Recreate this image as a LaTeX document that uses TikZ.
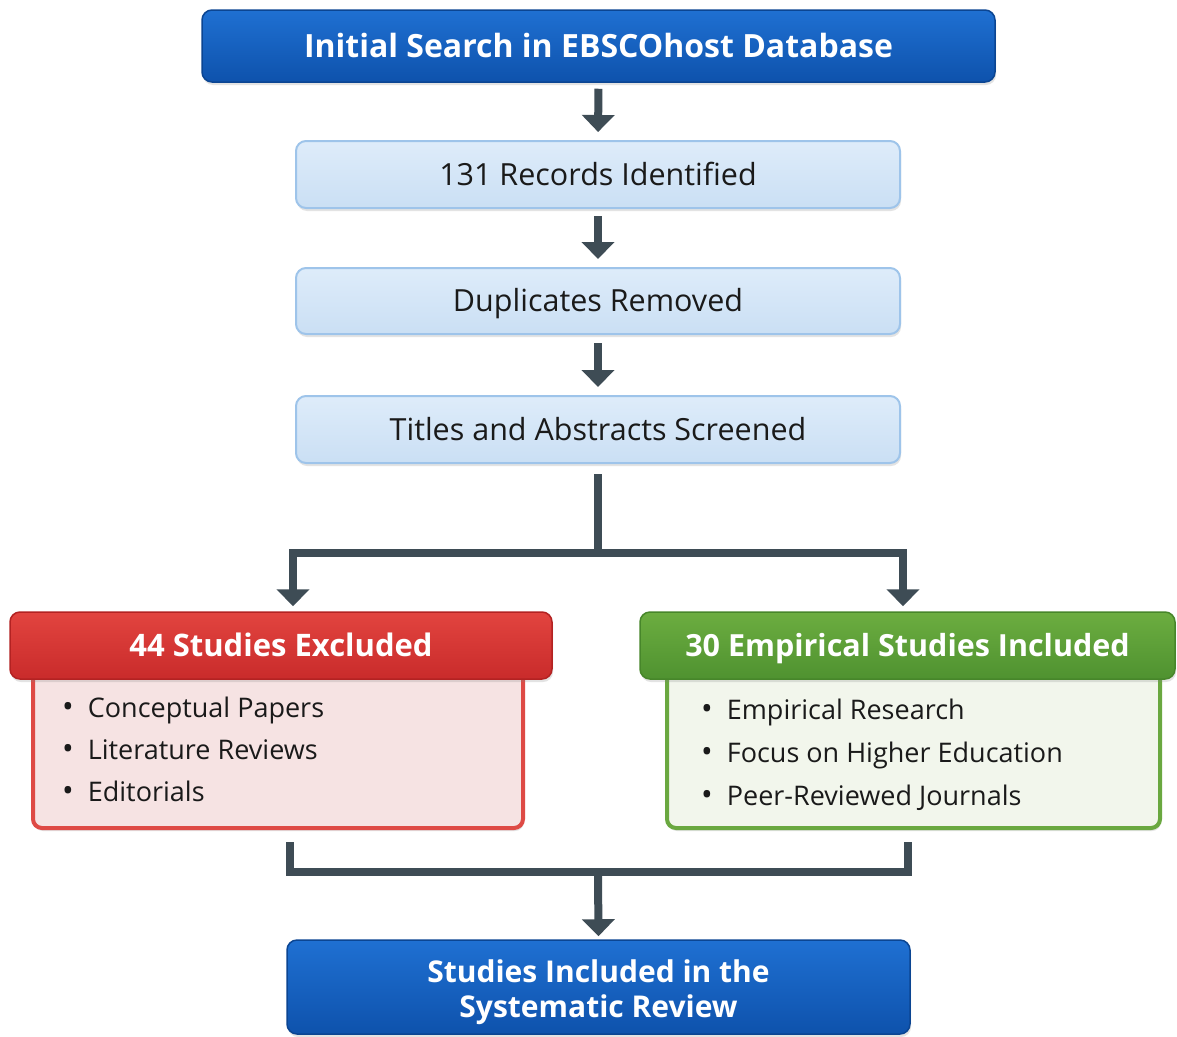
\documentclass[tikz,border=0pt]{standalone}
\usepackage{fontspec}
\setmainfont{Open Sans}
\usetikzlibrary{arrows.meta,shadows}
\definecolor{dkT}{HTML}{1F70D2}
\definecolor{dkB}{HTML}{0E52AC}
\definecolor{dkD}{HTML}{0B4592}
\definecolor{ltT}{HTML}{DEECFA}
\definecolor{ltB}{HTML}{CADFF4}
\definecolor{ltD}{HTML}{9EC4EA}
\definecolor{rdT}{HTML}{E2443F}
\definecolor{rdB}{HTML}{C92B2B}
\definecolor{rdD}{HTML}{B32222}
\definecolor{rdF}{HTML}{F6E3E3}
\definecolor{rdE}{HTML}{DE4A45}
\definecolor{gnT}{HTML}{6CAD40}
\definecolor{gnB}{HTML}{4F9230}
\definecolor{gnD}{HTML}{47862A}
\definecolor{gnF}{HTML}{F2F6EC}
\definecolor{gnE}{HTML}{6AA840}
\definecolor{arr}{HTML}{3E4C55}
\definecolor{txt}{HTML}{1A1A1A}
\begin{document}
\begin{tikzpicture}[x=1pt,y=-1pt,
  shad/.style={drop shadow={opacity=0.22,shadow xshift=1pt,shadow yshift=-3pt}},
  onel/.style={text height=#1,text depth=0pt},
  darkbox/.style={rounded corners=10pt,draw=dkD,line width=1.5pt,top color=dkT,bottom color=dkB,
    text=white,font=\fontsize{32}{35}\selectfont\bfseries,shad,align=center},
  lightbox/.style={rounded corners=10pt,draw=ltD,line width=2pt,top color=ltT,bottom color=ltB,
    text=txt,font=\fontsize{30.5}{33}\selectfont,shad,onel=21.8pt},
  redhead/.style={rounded corners=10pt,draw=rdD,line width=1.5pt,top color=rdT,bottom color=rdB,
    text=white,font=\fontsize{31}{34}\selectfont\bfseries,shad,onel=22.1pt},
  redbody/.style={rounded corners=9pt,draw=rdE,line width=4pt,fill=rdF,shad},
  grnhead/.style={rounded corners=10pt,draw=gnD,line width=1.5pt,top color=gnT,bottom color=gnB,
    text=white,font=\fontsize{30.5}{34}\selectfont\bfseries,shad,onel=21.8pt},
  grnbody/.style={rounded corners=9pt,draw=gnE,line width=4pt,fill=gnF,shad},
  item/.style={anchor=base west,inner sep=0pt,text=txt,font=\fontsize{27}{30}\selectfont},
  conn/.style={draw=arr,line width=8pt},
  tip/.style={-{Triangle[width=32pt,length=17pt]}},
  tips/.style={{Triangle[width=32pt,length=17pt]}-{Triangle[width=32pt,length=17pt]}}
]
\useasboundingbox (0,0) rectangle (1177,1036);
\fill[white] (0,0) rectangle (1177,1036);

% main column
\node[darkbox,onel=22.8pt,minimum width=793pt,minimum height=72pt] (init) at (598.5,46) {Initial Search in EBSCOhost Database};
\node[lightbox,minimum width=604pt,minimum height=67pt] (rec) at (598,174.5) {131 Records Identified};
\node[lightbox,minimum width=604pt,minimum height=66pt] (dup) at (598,301) {Duplicates Removed};
\node[lightbox,minimum width=604pt,minimum height=67pt] (scr) at (598,429.5) {Titles and Abstracts Screened};

\draw[conn,tip,shorten <=6pt,shorten >=8pt] (init.south) -- (rec.north);
\draw[conn,tip,shorten <=7pt,shorten >=8pt] (rec.south) -- (dup.north);
\draw[conn,tip,shorten <=8pt,shorten >=8pt] (dup.south) -- (scr.north);

% excluded
\node[redbody,minimum width=490pt,minimum height=158pt] (excbody) at (278,749) {};
\node[redhead,minimum width=542pt,minimum height=67pt] (exc) at (281,645.5) {44 Studies Excluded};
\node[item] (exc1) at (62,717) {{\fontsize{31}{30}\selectfont•}\hspace{14pt}Conceptual Papers};
\node[item] (exc2) at (62,759) {{\fontsize{31}{30}\selectfont•}\hspace{14pt}Literature Reviews};
\node[item] (exc3) at (62,801) {{\fontsize{31}{30}\selectfont•}\hspace{14pt}Editorials};

% included
\node[grnbody,minimum width=493pt,minimum height=158pt] (incbody) at (913.5,749) {};
\node[grnhead,minimum width=535pt,minimum height=67pt] (inc) at (907.5,645.5) {30 Empirical Studies Included};
\node[item] (inc1) at (701,719) {{\fontsize{31}{30}\selectfont•}\hspace{14pt}Empirical Research};
\node[item] (inc2) at (701,762) {{\fontsize{31}{30}\selectfont•}\hspace{14pt}Focus on Higher Education};
\node[item] (inc3) at (701,805) {{\fontsize{31}{30}\selectfont•}\hspace{14pt}Peer-Reviewed Journals};

% final
\node[darkbox,minimum width=623pt,minimum height=94pt,font=\fontsize{30}{35}\selectfont\bfseries,
  text height=61.6pt,text depth=0pt] (final) at (598.5,987) {Studies Included in the\\Systematic Review};

% split
\coordinate (split) at (598,553);
\draw[conn,shorten <=10pt] (scr.south) -- (split);
\draw[conn,tips] ([xshift=12pt,yshift=5pt]exc.north) |- (split) -| ([xshift=-4.5pt,yshift=5pt]inc.north);

% merge
\coordinate (merge) at (598,872);
\draw[conn] ([xshift=12pt,yshift=-12pt]excbody.south) |- (merge) -| ([xshift=-5.5pt,yshift=-12pt]incbody.south);
\draw[conn,tip,shorten >=3pt] (merge) -- (final.north);
\end{tikzpicture}
\end{document}
